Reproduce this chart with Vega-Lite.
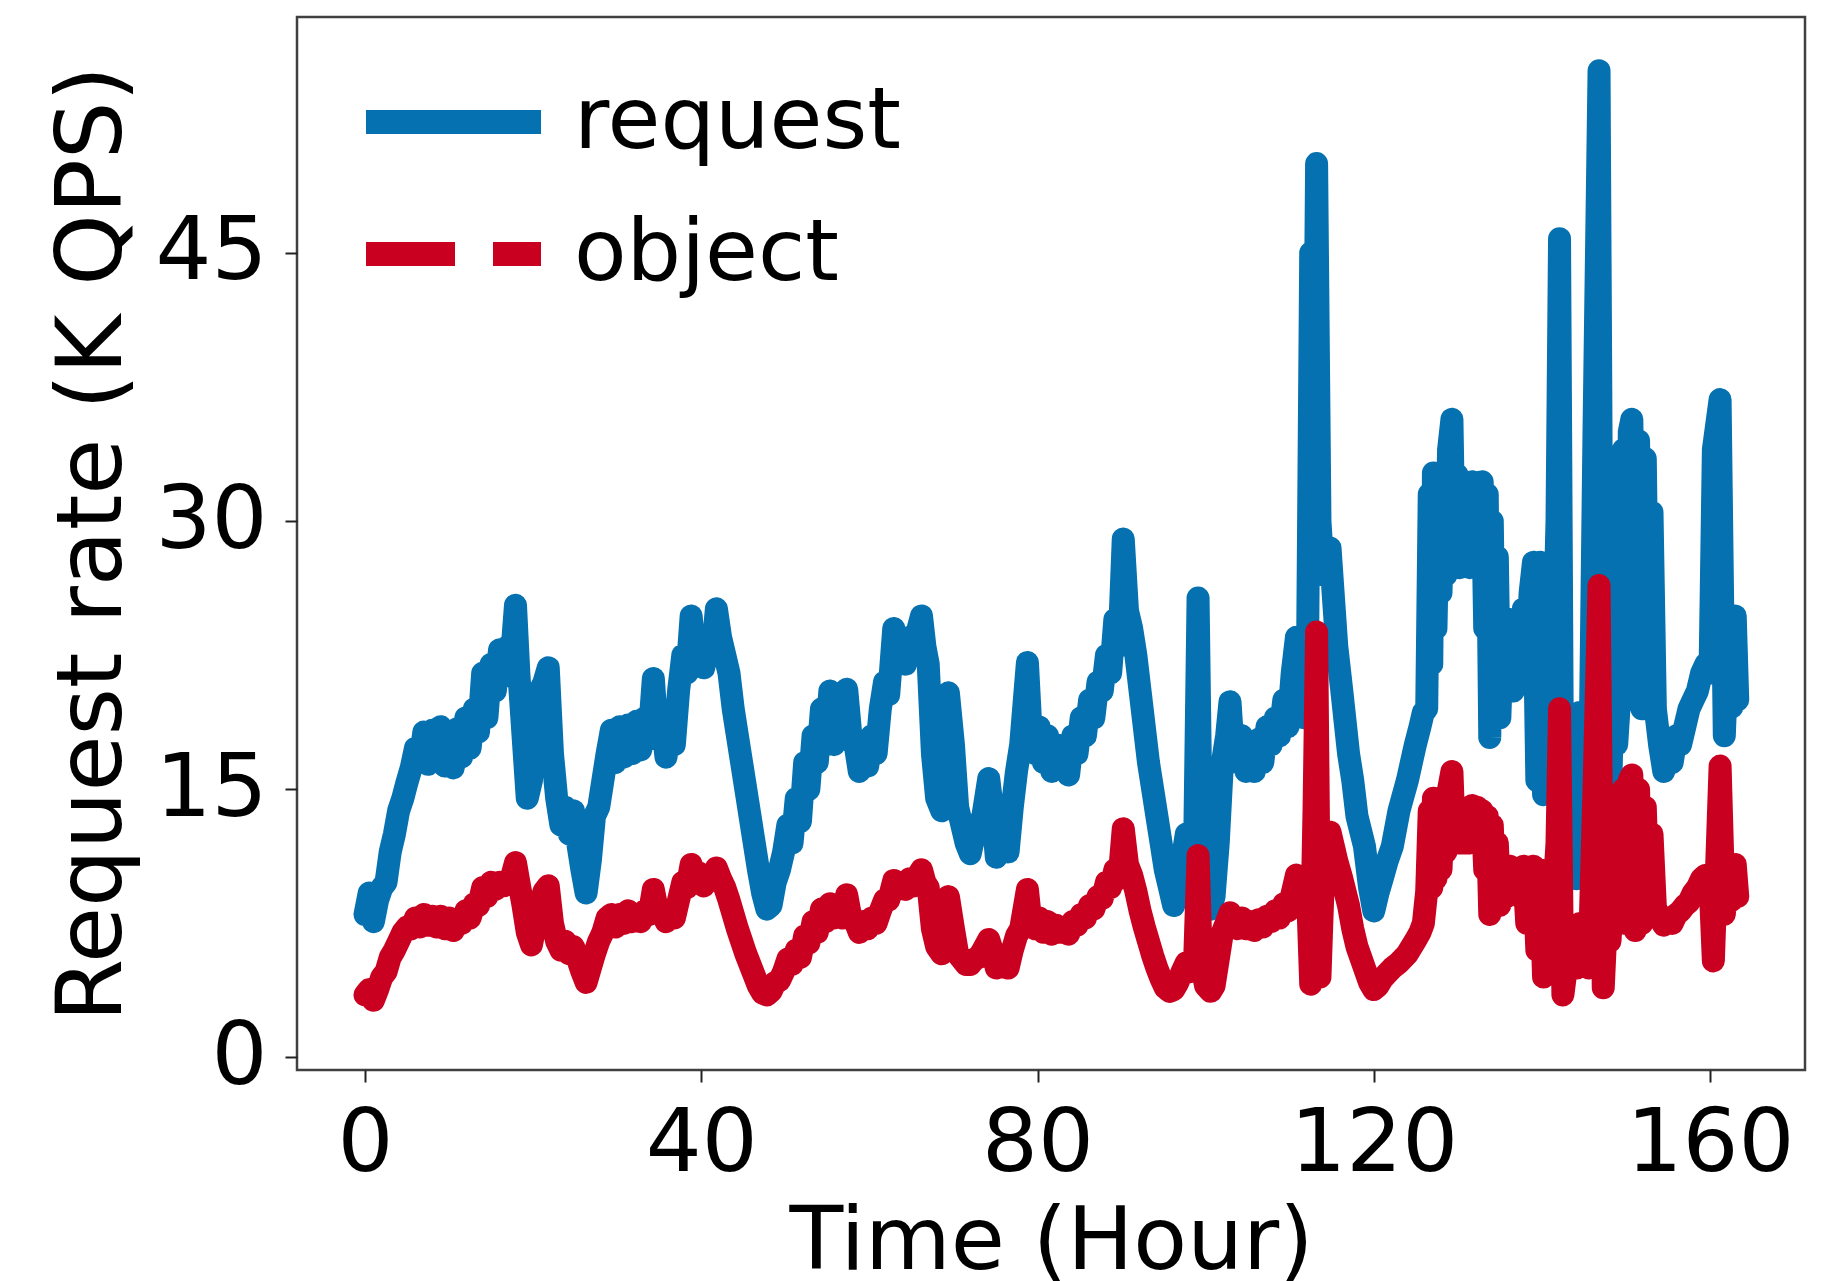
{
  "$schema": "https://vega.github.io/schema/vega-lite/v6.json",
  "width": 1508,
  "height": 1053,
  "autosize": {"type": "none"},
  "padding": {"left": 297, "top": 17, "right": 19, "bottom": 211},
  "background": "white",
  "config": {
    "font": "DejaVu Sans",
    "view": {"stroke": "#404040", "strokeWidth": 2.5}
  },
  "data": {"values": [
    {"t":0,"request":8.0,"object":3.5},{"t":0.5,"request":9.2,"object":3.8},{"t":1,"request":7.6,"object":3.2},{"t":1.5,"request":8.8,"object":3.8},
    {"t":2,"request":9.5,"object":4.5},{"t":2.5,"request":9.8,"object":4.8},{"t":3,"request":11.5,"object":5.6},{"t":3.5,"request":12.5,"object":6.0},
    {"t":4,"request":13.8,"object":6.5},{"t":4.5,"request":14.5,"object":7.0},{"t":5,"request":15.4,"object":7.3},{"t":5.5,"request":16.2,"object":7.2},
    {"t":6,"request":17.3,"object":7.8},{"t":6.5,"request":16.5,"object":7.3},{"t":7,"request":18.2,"object":8.0},{"t":7.5,"request":16.4,"object":7.4},
    {"t":8,"request":18.3,"object":7.9},{"t":8.5,"request":16.8,"object":7.3},{"t":9,"request":18.5,"object":7.9},{"t":9.5,"request":16.3,"object":7.2},
    {"t":10,"request":18.0,"object":7.8},{"t":10.5,"request":16.2,"object":7.1},{"t":11,"request":18.4,"object":7.6},{"t":11.5,"request":16.8,"object":7.5},
    {"t":12,"request":19.0,"object":8.2},{"t":12.5,"request":17.3,"object":7.8},{"t":13,"request":19.5,"object":8.6},{"t":13.5,"request":18.2,"object":8.5},
    {"t":14,"request":21.5,"object":9.5},{"t":14.5,"request":19.0,"object":9.0},{"t":15,"request":22.0,"object":9.8},{"t":15.5,"request":20.5,"object":9.4},
    {"t":16,"request":22.8,"object":9.8},{"t":16.5,"request":21.3,"object":9.6},{"t":17,"request":23.0,"object":9.8},{"t":17.5,"request":22.8,"object":10.2},
    {"t":17.9,"request":25.3,"object":10.9},{"t":18.3,"request":21.5,"object":9.8},{"t":18.8,"request":18.0,"object":8.5},{"t":19.3,"request":14.5,"object":7.0},
    {"t":19.8,"request":15.5,"object":6.3},{"t":20.3,"request":19.0,"object":7.5},{"t":20.8,"request":20.5,"object":8.5},{"t":21.3,"request":21.0,"object":9.3},
    {"t":21.8,"request":21.8,"object":9.6},{"t":22.3,"request":17.0,"object":7.5},{"t":22.8,"request":14.5,"object":6.5},{"t":23.3,"request":13.0,"object":6.0},
    {"t":23.8,"request":14.0,"object":6.5},{"t":24.3,"request":12.5,"object":5.8},{"t":24.8,"request":13.8,"object":6.2},{"t":25.3,"request":12.0,"object":5.5},
    {"t":25.8,"request":10.5,"object":4.8},{"t":26.3,"request":9.2,"object":4.2},{"t":26.8,"request":11.0,"object":5.0},{"t":27.3,"request":13.5,"object":5.8},
    {"t":27.8,"request":14.0,"object":6.5},{"t":28.3,"request":15.5,"object":7.0},{"t":28.8,"request":17.0,"object":7.8},{"t":29.3,"request":18.3,"object":8.0},
    {"t":29.8,"request":16.5,"object":7.3},{"t":30.3,"request":18.5,"object":8.0},{"t":30.8,"request":16.8,"object":7.5},{"t":31.3,"request":18.6,"object":8.2},
    {"t":31.8,"request":17.0,"object":7.6},{"t":32.3,"request":18.8,"object":8.0},{"t":32.8,"request":17.2,"object":7.6},{"t":33.3,"request":19.0,"object":8.2},
    {"t":33.8,"request":18.0,"object":8.0},{"t":34.3,"request":21.2,"object":9.4},{"t":34.8,"request":17.8,"object":8.2},{"t":35.3,"request":19.0,"object":8.3},
    {"t":35.8,"request":16.8,"object":7.6},{"t":36.3,"request":18.3,"object":8.0},{"t":36.8,"request":17.5,"object":7.8},{"t":37.3,"request":20.5,"object":8.8},
    {"t":37.8,"request":22.5,"object":9.8},{"t":38.3,"request":21.5,"object":9.5},{"t":38.8,"request":24.7,"object":10.8},{"t":39.3,"request":22.0,"object":10.0},
    {"t":39.8,"request":23.5,"object":10.3},{"t":40.3,"request":21.8,"object":9.6},{"t":40.8,"request":23.0,"object":10.0},{"t":41.3,"request":22.5,"object":10.0},
    {"t":41.8,"request":25.1,"object":10.6},{"t":42.3,"request":23.5,"object":10.0},{"t":42.8,"request":22.5,"object":9.5},{"t":43.3,"request":21.5,"object":8.8},
    {"t":43.8,"request":19.5,"object":8.0},{"t":44.3,"request":18.0,"object":7.2},{"t":44.8,"request":16.5,"object":6.5},{"t":45.3,"request":15.0,"object":5.8},
    {"t":45.8,"request":13.5,"object":5.2},{"t":46.3,"request":12.0,"object":4.6},{"t":46.8,"request":10.5,"object":4.0},{"t":47.3,"request":9.2,"object":3.6},
    {"t":47.8,"request":8.3,"object":3.5},{"t":48.3,"request":8.5,"object":3.7},{"t":48.8,"request":9.8,"object":4.2},{"t":49.3,"request":10.5,"object":4.3},
    {"t":49.8,"request":11.5,"object":4.8},{"t":50.3,"request":13.0,"object":5.5},{"t":50.8,"request":12.0,"object":5.2},{"t":51.3,"request":14.5,"object":6.0},
    {"t":51.8,"request":13.2,"object":5.6},{"t":52.3,"request":16.5,"object":6.8},{"t":52.8,"request":15.0,"object":6.4},{"t":53.3,"request":18.0,"object":7.6},
    {"t":53.8,"request":16.5,"object":7.0},{"t":54.3,"request":19.5,"object":8.3},{"t":54.8,"request":17.5,"object":7.6},{"t":55.3,"request":20.5,"object":8.6},
    {"t":55.8,"request":17.5,"object":7.8},{"t":56.3,"request":19.0,"object":8.2},{"t":56.8,"request":17.8,"object":7.8},{"t":57.3,"request":20.6,"object":9.1},
    {"t":57.8,"request":18.0,"object":7.8},{"t":58.3,"request":17.5,"object":7.6},{"t":58.8,"request":16.0,"object":7.0},{"t":59.3,"request":17.5,"object":7.6},
    {"t":59.8,"request":16.3,"object":7.2},{"t":60.3,"request":18.0,"object":7.8},{"t":60.8,"request":17.0,"object":7.5},{"t":61.3,"request":19.5,"object":8.2},
    {"t":61.8,"request":21.0,"object":8.8},{"t":62.3,"request":20.3,"object":8.8},{"t":62.9,"request":24.0,"object":9.9},{"t":63.3,"request":22.0,"object":9.4},
    {"t":63.8,"request":23.0,"object":9.8},{"t":64.3,"request":22.0,"object":9.4},{"t":64.8,"request":23.5,"object":10.0},{"t":65.3,"request":22.5,"object":9.6},
    {"t":65.8,"request":24.0,"object":10.2},{"t":66.2,"request":24.7,"object":10.5},{"t":66.6,"request":23.0,"object":9.8},{"t":67.0,"request":22.0,"object":9.5},
    {"t":67.5,"request":17.0,"object":7.2},{"t":68.0,"request":14.5,"object":6.2},{"t":68.6,"request":13.8,"object":5.8},{"t":69.0,"request":17.0,"object":7.3},
    {"t":69.4,"request":20.4,"object":9.0},{"t":70.0,"request":17.5,"object":7.2},{"t":70.5,"request":14.0,"object":5.8},{"t":71.0,"request":13.0,"object":5.5},
    {"t":71.5,"request":12.0,"object":5.2},{"t":72.0,"request":11.4,"object":5.2},{"t":72.5,"request":12.5,"object":5.5},{"t":73.0,"request":13.0,"object":5.6},
    {"t":73.5,"request":13.5,"object":6.0},{"t":74.2,"request":15.6,"object":6.6},{"t":74.6,"request":14.0,"object":6.0},{"t":75.1,"request":11.2,"object":5.0},
    {"t":75.5,"request":12.0,"object":5.2},{"t":76.0,"request":12.5,"object":5.4},{"t":76.5,"request":11.5,"object":5.0},{"t":77.0,"request":14.0,"object":6.0},
    {"t":77.5,"request":16.0,"object":6.8},{"t":78.0,"request":17.5,"object":7.2},{"t":78.8,"request":22.1,"object":9.4},{"t":79.2,"request":18.5,"object":7.6},
    {"t":79.7,"request":17.0,"object":7.2},{"t":80.2,"request":18.5,"object":7.8},{"t":80.7,"request":16.5,"object":7.0},{"t":81.2,"request":18.0,"object":7.6},
    {"t":81.7,"request":16.0,"object":6.9},{"t":82.2,"request":17.5,"object":7.4},{"t":82.7,"request":16.5,"object":7.0},{"t":83.2,"request":17.0,"object":7.3},
    {"t":83.7,"request":15.8,"object":6.9},{"t":84.2,"request":18.0,"object":7.6},{"t":84.7,"request":17.0,"object":7.4},{"t":85.2,"request":19.0,"object":8.0},
    {"t":85.7,"request":18.0,"object":7.8},{"t":86.2,"request":20.0,"object":8.5},{"t":86.7,"request":19.0,"object":8.3},{"t":87.2,"request":21.0,"object":9.0},
    {"t":87.7,"request":20.5,"object":8.9},{"t":88.2,"request":22.5,"object":9.8},{"t":88.7,"request":21.5,"object":9.5},{"t":89.2,"request":24.5,"object":10.5},
    {"t":89.7,"request":23.0,"object":10.0},{"t":90.2,"request":29.0,"object":12.8},{"t":90.7,"request":25.0,"object":10.8},{"t":91.2,"request":24.0,"object":10.2},
    {"t":91.7,"request":22.5,"object":9.3},{"t":92.2,"request":20.5,"object":8.2},{"t":92.7,"request":18.5,"object":7.3},{"t":93.2,"request":16.5,"object":6.5},
    {"t":93.7,"request":15.0,"object":5.7},{"t":94.2,"request":13.5,"object":5.0},{"t":94.7,"request":12.0,"object":4.4},{"t":95.2,"request":10.5,"object":3.9},
    {"t":95.7,"request":9.5,"object":3.7},{"t":96.2,"request":8.5,"object":3.8},{"t":96.7,"request":9.5,"object":4.2},{"t":97.2,"request":11.0,"object":4.8},
    {"t":97.7,"request":12.5,"object":5.3},{"t":98.2,"request":11.0,"object":4.8},{"t":98.7,"request":12.0,"object":5.5},{"t":99.1,"request":25.7,"object":11.3},
    {"t":99.5,"request":12.0,"object":5.2},{"t":100.0,"request":9.0,"object":4.0},{"t":100.6,"request":8.3,"object":3.7},{"t":101.0,"request":9.0,"object":4.0},
    {"t":101.5,"request":12.0,"object":5.5},{"t":102.0,"request":16.5,"object":7.0},{"t":102.5,"request":18.0,"object":7.6},{"t":102.9,"request":19.9,"object":8.1},
    {"t":103.3,"request":17.0,"object":7.5},{"t":103.8,"request":16.5,"object":7.2},{"t":104.3,"request":18.0,"object":7.8},{"t":104.8,"request":16.0,"object":7.2},
    {"t":105.3,"request":17.5,"object":7.6},{"t":105.8,"request":16.0,"object":7.1},{"t":106.3,"request":17.8,"object":7.7},{"t":106.8,"request":16.5,"object":7.3},
    {"t":107.3,"request":18.5,"object":7.9},{"t":107.8,"request":17.5,"object":7.6},{"t":108.3,"request":19.0,"object":8.2},{"t":108.8,"request":18.0,"object":7.8},
    {"t":109.3,"request":20.0,"object":8.6},{"t":109.8,"request":18.5,"object":8.2},{"t":110.3,"request":21.5,"object":9.2},{"t":110.8,"request":23.5,"object":10.2},
    {"t":111.2,"request":20.0,"object":9.0},{"t":111.7,"request":19.0,"object":8.5},{"t":112.1,"request":21.0,"object":9.5},{"t":112.5,"request":45.0,"object":4.1},
    {"t":112.9,"request":33.0,"object":14.0},{"t":113.2,"request":50.0,"object":23.8},{"t":113.6,"request":30.0,"object":4.5},{"t":114.0,"request":27.0,"object":10.0},
    {"t":114.8,"request":28.5,"object":12.6},{"t":115.6,"request":23.0,"object":11.0},{"t":116.2,"request":20.5,"object":10.0},{"t":117.0,"request":17.0,"object":8.5},
    {"t":117.5,"request":15.5,"object":7.2},{"t":118.0,"request":13.5,"object":6.2},{"t":118.9,"request":11.8,"object":5.0},{"t":119.5,"request":9.5,"object":4.2},
    {"t":120.0,"request":8.2,"object":3.8},{"t":120.5,"request":9.2,"object":4.0},{"t":121.0,"request":10.0,"object":4.4},{"t":121.6,"request":11.0,"object":4.7},
    {"t":122.2,"request":11.8,"object":5.0},{"t":123.0,"request":13.8,"object":5.3},{"t":124.0,"request":15.5,"object":5.8},{"t":124.9,"request":17.4,"object":6.5},
    {"t":125.5,"request":18.5,"object":7.0},{"t":125.9,"request":19.3,"object":7.5},{"t":126.3,"request":19.5,"object":9.3},{"t":126.6,"request":31.5,"object":13.8},
    {"t":126.9,"request":22.0,"object":9.5},{"t":127.1,"request":32.7,"object":14.5},{"t":127.4,"request":24.0,"object":10.0},{"t":127.7,"request":31.0,"object":13.5},
    {"t":128.0,"request":26.0,"object":10.5},{"t":128.3,"request":32.0,"object":14.0},{"t":128.6,"request":27.0,"object":11.5},{"t":128.9,"request":34.0,"object":15.0},
    {"t":129.3,"request":35.7,"object":16.0},{"t":129.6,"request":27.4,"object":12.0},{"t":129.9,"request":32.6,"object":14.0},{"t":130.2,"request":27.4,"object":12.0},
    {"t":130.5,"request":32.0,"object":13.8},{"t":130.8,"request":27.6,"object":12.0},{"t":131.1,"request":31.5,"object":13.5},{"t":131.4,"request":27.4,"object":12.0},
    {"t":131.7,"request":32.2,"object":14.1},{"t":132.0,"request":27.6,"object":12.2},{"t":132.3,"request":31.8,"object":14.0},{"t":132.6,"request":27.5,"object":12.0},
    {"t":132.9,"request":32.2,"object":13.8},{"t":133.2,"request":24.0,"object":10.5},{"t":133.5,"request":31.5,"object":13.5},{"t":133.8,"request":17.9,"object":8.0},
    {"t":134.1,"request":30.0,"object":13.0},{"t":134.4,"request":20.0,"object":9.0},{"t":134.7,"request":28.0,"object":12.0},{"t":135.0,"request":19.0,"object":8.5},
    {"t":135.4,"request":24.5,"object":10.5},{"t":135.8,"request":20.5,"object":9.0},{"t":136.2,"request":24.5,"object":10.7},{"t":136.6,"request":20.5,"object":9.2},
    {"t":137.0,"request":24.0,"object":10.5},{"t":137.4,"request":21.0,"object":9.0},{"t":137.8,"request":25.1,"object":10.7},{"t":138.2,"request":22.0,"object":7.5},
    {"t":138.6,"request":26.0,"object":10.5},{"t":139.0,"request":27.7,"object":10.7},{"t":139.4,"request":15.5,"object":6.0},{"t":139.8,"request":27.7,"object":10.5},
    {"t":140.2,"request":14.7,"object":4.5},{"t":140.6,"request":22.0,"object":8.5},{"t":141.0,"request":16.0,"object":5.0},{"t":141.4,"request":22.5,"object":9.0},
    {"t":141.8,"request":30.0,"object":12.0},{"t":142.1,"request":45.8,"object":19.5},{"t":142.5,"request":12.0,"object":3.5},{"t":142.9,"request":10.2,"object":5.0},
    {"t":143.3,"request":11.0,"object":5.5},{"t":143.7,"request":18.0,"object":7.0},{"t":144.1,"request":10.0,"object":5.0},{"t":144.5,"request":19.3,"object":7.5},
    {"t":144.9,"request":10.5,"object":5.2},{"t":145.3,"request":19.0,"object":7.0},{"t":145.6,"request":12.0,"object":5.0},{"t":146.2,"request":35.0,"object":15.0},
    {"t":146.8,"request":55.2,"object":26.4},{"t":147.3,"request":12.0,"object":3.9},{"t":147.7,"request":20.0,"object":8.0},{"t":148.1,"request":13.5,"object":6.5},
    {"t":148.5,"request":21.0,"object":9.5},{"t":148.9,"request":17.5,"object":8.0},{"t":149.3,"request":20.5,"object":9.0},{"t":149.7,"request":34.0,"object":15.0},
    {"t":150.0,"request":20.0,"object":7.5},{"t":150.4,"request":35.0,"object":15.5},{"t":150.7,"request":35.7,"object":15.8},{"t":151.1,"request":20.0,"object":7.1},
    {"t":151.5,"request":34.5,"object":15.0},{"t":151.9,"request":19.5,"object":7.5},{"t":152.3,"request":33.5,"object":14.0},{"t":152.7,"request":19.5,"object":8.0},
    {"t":153.1,"request":30.5,"object":12.5},{"t":153.5,"request":19.5,"object":8.4},{"t":154.0,"request":17.5,"object":7.8},{"t":154.5,"request":16.0,"object":7.4},
    {"t":155.0,"request":17.0,"object":7.8},{"t":155.5,"request":16.5,"object":7.5},{"t":156.0,"request":18.0,"object":8.0},{"t":156.5,"request":17.5,"object":8.2},
    {"t":157.0,"request":18.5,"object":8.5},{"t":157.5,"request":19.5,"object":8.7},{"t":158.0,"request":20.0,"object":9.2},{"t":158.5,"request":20.5,"object":9.5},
    {"t":159.0,"request":21.5,"object":10.0},{"t":159.5,"request":22.0,"object":10.2},{"t":160.0,"request":21.5,"object":9.8},{"t":160.4,"request":34.0,"object":5.4},
    {"t":161.2,"request":36.8,"object":16.3},{"t":161.7,"request":18.0,"object":8.0},{"t":162.2,"request":24.0,"object":10.5},{"t":162.6,"request":19.6,"object":8.8},
    {"t":163.0,"request":24.7,"object":10.8},{"t":163.3,"request":20.0,"object":9.0}
  ]},
  "transform": [{"fold": ["request", "object"], "as": ["series", "value"]}],
  "encoding": {
    "x": {
      "field": "t", "type": "quantitative",
      "scale": {"domain": [-8.09, 171.3], "nice": false, "zero": false},
      "axis": {
        "title": "Time (Hour)", "values": [0, 40, 80, 120, 160],
        "grid": false, "domain": false, "tickSize": 12, "tickWidth": 2, "tickColor": "#222222",
        "labelFontSize": 88, "labelColor": "#000000", "labelPadding": 18, "labelFlush": false, "labelOverlap": false,
        "titleFontSize": 88, "titleFontWeight": "normal", "titleColor": "#000000", "titlePadding": 10
      }
    },
    "y": {
      "field": "value", "type": "quantitative",
      "scale": {"domain": [-0.7, 58.2], "nice": false, "zero": false},
      "axis": {
        "title": "Request rate (K QPS)", "values": [0, 15, 30, 45],
        "grid": false, "domain": false, "tickSize": 12, "tickWidth": 2, "tickColor": "#222222",
        "labelFontSize": 88, "labelColor": "#000000", "labelPadding": 18, "labelFlush": false, "labelOverlap": false,
        "titleFontSize": 91, "titleFontWeight": "normal", "titleColor": "#000000", "titlePadding": 16
      }
    },
    "color": {
      "field": "series", "type": "nominal",
      "scale": {"domain": ["request", "object"], "range": ["#0571b0", "#ca0020"]},
      "legend": {
        "title": null, "orient": "none", "legendX": 26, "legendY": 62,
        "symbolType": "M0,0H8", "symbolSize": 1914, "symbolStrokeWidth": 24,
        "labelFontSize": 86, "labelColor": "#000000", "labelOffset": 165, "labelLimit": 0,
        "rowPadding": 36, "padding": 0,
        "encode": {"symbols": {"update": {
          "strokeDash": {"signal": "datum.value === 'object' ? [89, 38] : [1, 0]"},
          "strokeCap": {"value": "butt"}
        }}}
      }
    }
  },
  "layer": [
    {
      "transform": [{"filter": "datum.series === 'request'"}],
      "mark": {"type": "line", "strokeWidth": 23, "strokeJoin": "round", "strokeCap": "round", "clip": true}
    },
    {
      "transform": [{"filter": "datum.series === 'object'"}],
      "mark": {"type": "line", "strokeWidth": 23, "strokeJoin": "round", "strokeCap": "round", "clip": true}
    }
  ]
}
